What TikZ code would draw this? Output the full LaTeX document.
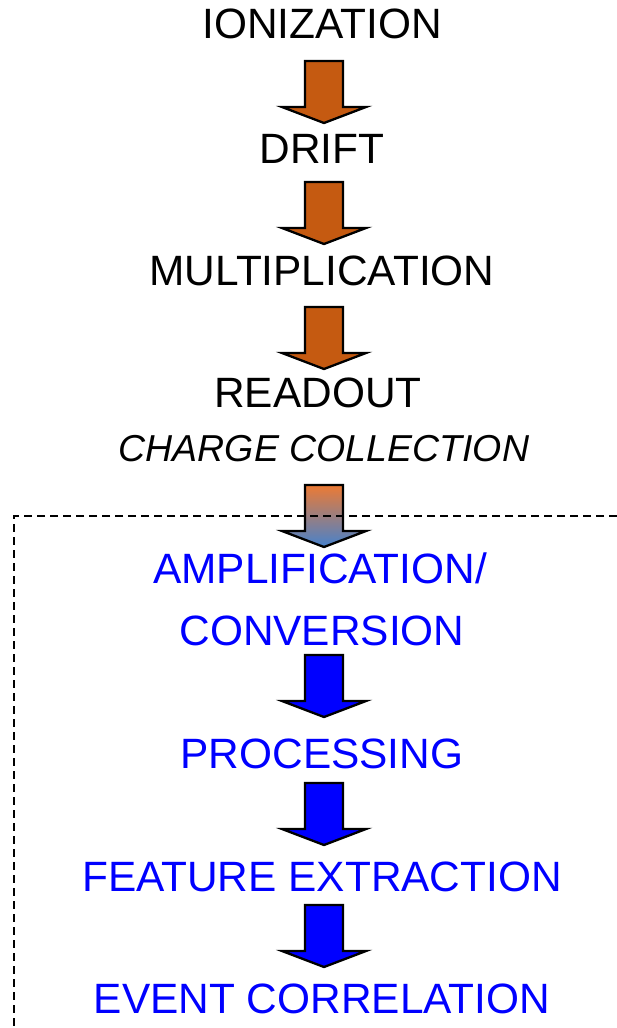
\documentclass[tikz,border=0pt]{standalone}
\usepackage{fontspec}
\setmainfont{Liberation Sans}
\begin{document}
\begin{tikzpicture}[x=1pt,y=1pt,
  stage/.style={anchor=base,inner sep=0pt,font=\fontsize{42.4}{50}\selectfont},
  physics/.style={stage,text=black},
  electronics/.style={stage,text=elecblue},
  note/.style={anchor=base,inner sep=0pt,font=\fontsize{37.5}{44}\selectfont\itshape},
  blockarrow/.pic={\path[pic actions] (-19,0) -- (19,0) -- (19,-46) -- (42,-46)
                    -- (0,-62) -- (-42,-46) -- (-19,-46) -- cycle;},
  orangearrow/.style={draw=black,line width=2.3pt,fill=arroworange},
  bluearrow/.style={draw=black,line width=2.3pt,fill=elecblue},
  mixedarrow/.style={draw=black,line width=2.3pt,top color=gradorange,
                     middle color=white!85!gradblue,bottom color=gradblue},
  boundary/.style={draw=black,line width=1.6pt,dash pattern=on 8pt off 5pt}
]
\definecolor{arroworange}{RGB}{197,90,17}
\definecolor{elecblue}{RGB}{0,0,255}
\definecolor{gradorange}{RGB}{236,122,52}
\definecolor{gradblue}{RGB}{70,130,205}
\useasboundingbox (0,0) rectangle (616,-1028);

% detector physics chain
\node[physics] (ion)   at (322,-38)  {IONIZATION};
\node[physics] (drift) at (322,-163) {DRIFT};
\node[physics] (mult)  at (322,-285) {MULTIPLICATION};
\node[physics] (read)  at (318,-407) {READOUT};
\node[note]    (coll)  at (324,-461) {CHARGE COLLECTION};

\pic[orangearrow] at (324,-61)  {blockarrow};
\pic[orangearrow] at (324,-182) {blockarrow};
\pic[orangearrow] at (324,-307) {blockarrow};

% hand-over from charge collection to the electronics
\pic[mixedarrow] at (324,-485) {blockarrow};

% front-end electronics chain
\node[electronics] (amp)   at (320,-583)  {AMPLIFICATION/};
\node[electronics] (conv)  at (322,-645)  {CONVERSION};
\node[electronics] (proc)  at (322,-768)  {PROCESSING};
\node[electronics] (feat)  at (322,-891)  {FEATURE EXTRACTION};
\node[electronics] (event) at (322,-1013) {EVENT CORRELATION};

\pic[bluearrow] at (324,-655) {blockarrow};
\pic[bluearrow] at (324,-783) {blockarrow};
\pic[bluearrow] at (324,-905) {blockarrow};

% electronics boundary
\coordinate (boxtl) at (14,-516);
\draw[boundary] (630,-516) -- (boxtl) -- (14,-1040);
\end{tikzpicture}
\end{document}
